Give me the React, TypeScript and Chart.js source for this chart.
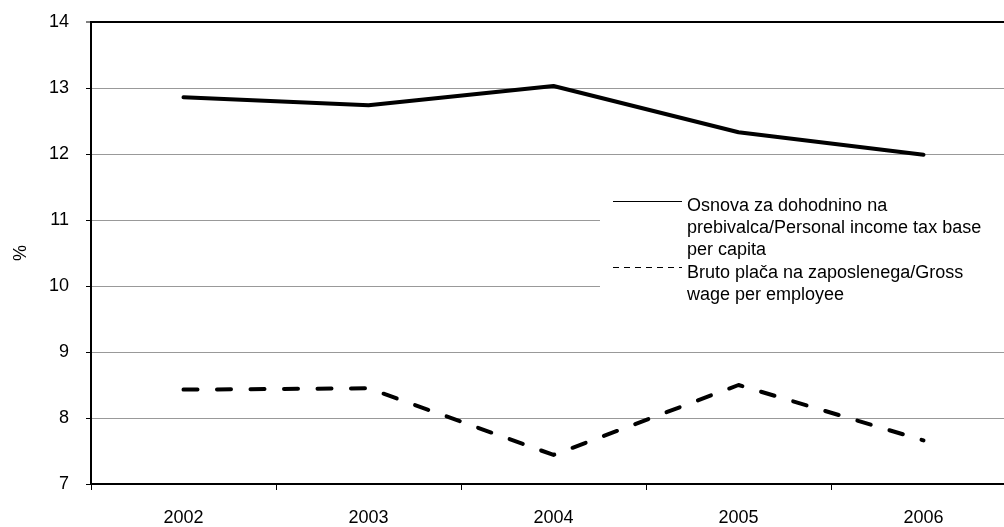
import React, { useEffect, useRef } from "react";
import { Chart, registerables } from "chart.js";

Chart.register(...registerables);

const categories = ["2002", "2003", "2004", "2005", "2006"];
const incomeTaxBase = [12.86, 12.74, 13.03, 12.33, 11.99];
const grossWage = [8.43, 8.45, 7.44, 8.5, 7.66];
const incomeTaxLabel = ["Osnova za dohodnino na", "prebivalca/Personal income tax base", "per capita"];
const grossWageLabel = ["Bruto plača na zaposlenega/Gross", "wage per employee"];
const yAxisTitle = "%";
const yMin = 7;
const yMax = 14;

const FONT = "'Liberation Sans', Arial, sans-serif";

const boxLegend = {
  id: "boxLegend",
  beforeDatasetsDraw(chart: any) {
    const ctx = chart.ctx;
    const area = chart.chartArea;
    ctx.save();
    ctx.fillStyle = "#ffffff";
    ctx.fillRect(600, 186, area.right - 600, 120);
    const entries = [
      { lines: incomeTaxLabel, dash: [] as number[], y0: 211, sample: 201 },
      { lines: grossWageLabel, dash: [6, 5], y0: 278, sample: 267 },
    ];
    ctx.font = `18px ${FONT}`;
    ctx.fillStyle = "#000";
    ctx.textBaseline = "alphabetic";
    ctx.textAlign = "left";
    entries.forEach((e) => {
      ctx.beginPath();
      ctx.setLineDash(e.dash);
      ctx.lineWidth = 1;
      ctx.strokeStyle = "#000";
      ctx.moveTo(613, e.sample + 0.5);
      ctx.lineTo(682, e.sample + 0.5);
      ctx.stroke();
      e.lines.forEach((t, i) => ctx.fillText(t, 687, e.y0 + i * 22));
    });
    ctx.restore();
  },
};

export default function App() {
  const ref = useRef<HTMLCanvasElement>(null);
  useEffect(() => {
    if (!ref.current) return;
    const chart = new Chart(ref.current, {
      type: "line",
      data: {
        labels: categories,
        datasets: [
          {
            label: incomeTaxLabel.join(" "),
            data: incomeTaxBase,
            borderColor: "#000",
            borderWidth: 4,
            pointRadius: 0,
            tension: 0,
            borderCapStyle: "round",
            borderJoinStyle: "round",
          },
          {
            label: grossWageLabel.join(" "),
            data: grossWage,
            borderColor: "#000",
            borderWidth: 4,
            pointRadius: 0,
            tension: 0,
            borderDash: [14, 19.5],
            borderCapStyle: "round",
            borderJoinStyle: "round",
          },
        ],
      },
      plugins: [boxLegend],
      options: {
        responsive: false,
        animation: false,
        layout: { padding: { top: 22, right: 14, left: 0, bottom: 0 } },
        plugins: {
          legend: { display: false },
          tooltip: { enabled: false },
        },
        scales: {
          x: {
            offset: true,
            grid: {
              offset: true,
              drawOnChartArea: false,
              drawTicks: true,
              tickLength: 6,
              tickColor: "#000",
              tickWidth: 1,
            },
            border: { color: "#000", width: 2 },
            ticks: {
              color: "#000",
              font: { family: FONT, size: 18 },
              padding: 17,
              maxRotation: 0,
            },
            afterFit(scale: any) {
              scale.height = 43;
            },
          },
          y: {
            min: yMin,
            max: yMax,
            ticks: {
              stepSize: 1,
              color: "#000",
              font: { family: FONT, size: 18 },
              padding: 17,
            },
            grid: {
              color: (c: any) => (c.tick && c.tick.value === yMax ? "#000" : "#999"),
              lineWidth: (c: any) => (c.tick && c.tick.value === yMax ? 2 : 1),
              tickLength: 5,
              tickColor: "#000",
              tickWidth: 1,
            },
            border: { color: "#000", width: 2 },
            title: {
              display: true,
              text: yAxisTitle,
              color: "#000",
              font: { family: FONT, size: 18 },
              padding: { top: 10, bottom: 0 },
            },
            afterFit(scale: any) {
              scale.width = 91;
              scale.paddingTop = 0;
              scale.paddingBottom = 0;
            },
          },
        },
      },
    } as any);
    return () => chart.destroy();
  }, []);
  return (
    <div style={{ position: "fixed", left: 0, top: 0, width: 1004, height: 527, overflow: "hidden", background: "#fff" }}>
      <canvas ref={ref} width={1030} height={527} style={{ display: "block", width: 1030, height: 527 }} />
    </div>
  );
}
